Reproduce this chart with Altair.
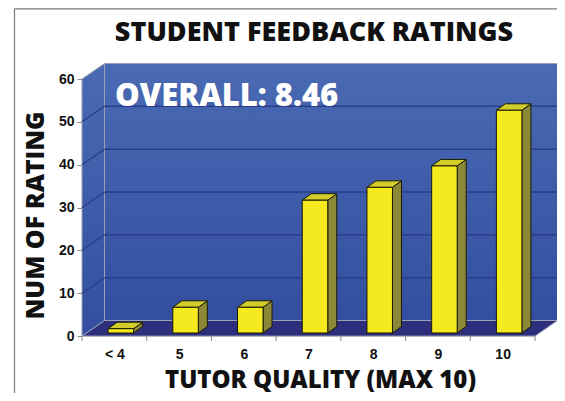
import altair as alt
import pandas as pd

# ---- data ----
categories = ["< 4", "5", "6", "7", "8", "9", "10"]
counts = [1, 6, 6, 31, 34, 39, 52]
y_ticks = [0, 10, 20, 30, 40, 50, 60]
title_text = "STUDENT FEEDBACK RATINGS"
overall_text = "OVERALL: 8.46"
x_title = "TUTOR QUALITY (MAX 10)"
y_title = "NUM OF RATING"

# ---- layout (pixels) ----
W, H = 453, 257
PAD = {"left": 74, "top": 71, "right": 22, "bottom": 57}
NX = len(categories)
YMAX = 60
ux = NX / W
uy = YMAX / H

DX, DY = 22.5 * ux, 15.5 * uy   # wall depth
BX, BY = 9 * ux, 6.5 * uy       # bar depth
BOFF = 6.5 * ux                 # bar front shift
BASE = 3 * uy                   # bar base above front edge
BW = 25.5 * ux                  # bar width

font_heavy = "Open Sans"
heavy_weight = 800

xs = alt.Scale(domain=[0, NX], range=[0, W], nice=False, zero=False)
ys = alt.Scale(domain=[0, YMAX], range=[H, 0], nice=False, zero=False)

label_expr = "[" + ",".join(f"'{c}'" for c in categories) + "][floor(datum.value)]"
AXX = alt.Axis(
    values=[i + 0.5 for i in range(NX)], labelExpr=label_expr, ticks=False, tickSize=0,
    domain=False, grid=False, labelFont="Liberation Sans", labelFontWeight="bold",
    labelFontSize=14, labelColor="#111", labelPadding=11,
    title=x_title, titleFont=font_heavy, titleFontWeight=heavy_weight, titleFontSize=24,
    titleColor="#111", titleX=238, titleY=44, titleAnchor="middle", titleBaseline="middle",
)
AXY = alt.Axis(
    values=y_ticks, domain=True, domainColor="#8a8a8a", tickColor="#8a8a8a",
    tickSize=5, grid=False, labelFont="Liberation Sans", labelFontWeight="bold",
    labelFontSize=14, labelColor="#111", labelPadding=3,
    title=y_title, titleFont=font_heavy, titleFontWeight=heavy_weight, titleFontSize=25,
    titleColor="#111", titleAngle=-90, titleX=-47, titleY=136,
    titleAlign="center", titleBaseline="middle",
)


def X(field):
    return alt.X(field, scale=xs, axis=AXX)


def Y(field):
    return alt.Y(field, scale=ys, axis=AXY)


# ---- walls ----
floor = pd.DataFrame({"x": [0, DX, NX, NX + DX], "y": [0, 0, 0, DY], "y2": [0, DY, DY, DY]})
left_wall = pd.DataFrame({"x": [0, DX], "y": [0, DY], "y2": [YMAX, YMAX + DY]})
back_wall = pd.DataFrame({"x": [DX], "x2": [NX + DX], "y": [DY], "y2": [YMAX + DY]})

wall_grad = alt.Gradient(
    gradient="linear",
    stops=[alt.GradientStop(color="#4a6ab3", offset=0),
           alt.GradientStop(color="#334ea0", offset=1)],
    x1=0, x2=0, y1=0, y2=1,
)

floor_layer = alt.Chart(floor).mark_area(color="#2d2f7c", stroke="#8f93b0", strokeWidth=1).encode(
    x=X("x:Q"), y=Y("y:Q"), y2="y2:Q",
)
left_layer = alt.Chart(left_wall).mark_area(fill=wall_grad, stroke="#9aa0b8", strokeWidth=1).encode(
    x=X("x:Q"), y=Y("y:Q"), y2="y2:Q",
)
back_layer = alt.Chart(back_wall).mark_rect(fill=wall_grad, stroke="#9aa0b8", strokeWidth=1).encode(
    x=X("x:Q"), x2="x2:Q", y=Y("y:Q"), y2="y2:Q",
)

grid_vals = [v for v in y_ticks if 0 < v < YMAX]
grid_back = pd.DataFrame({"x": [DX] * len(grid_vals), "x2": [NX + DX] * len(grid_vals),
                          "y": [v + DY for v in grid_vals]})
grid_side = pd.DataFrame({"x": [0] * len(grid_vals), "x2": [DX] * len(grid_vals),
                          "y": grid_vals, "y2": [v + DY for v in grid_vals]})
grid_back_layer = alt.Chart(grid_back).mark_rule(color="#2a3c88", strokeWidth=1.5).encode(
    x=X("x:Q"), x2="x2:Q", y=Y("y:Q"),
)
grid_side_layer = alt.Chart(grid_side).mark_rule(color="#2a3c88", strokeWidth=1.2).encode(
    x=X("x:Q"), x2="x2:Q", y=Y("y:Q"), y2="y2:Q",
)

# ---- bars ----
front_rows, top_rows, side_rows = [], [], []
for i, (c, v) in enumerate(zip(categories, counts)):
    xl = i + 0.5 + BOFF - BW / 2
    xr = xl + BW
    b0, b1 = BASE, BASE + v
    front_rows.append({"cat": c, "x": xl, "x2": xr, "y": b0, "y2": b1, "count": v})
    for x, y, y2 in [(xl, b1, b1), (xl + BX, b1, b1 + BY), (xr, b1, b1 + BY), (xr + BX, b1 + BY, b1 + BY)]:
        top_rows.append({"cat": c, "x": x, "y": y, "y2": y2})
    for x, y, y2 in [(xr, b0, b1), (xr + BX, b0 + BY, b1 + BY)]:
        side_rows.append({"cat": c, "x": x, "y": y, "y2": y2})

front_layer = alt.Chart(pd.DataFrame(front_rows)).mark_rect(
    color="#f4ea1f", stroke="#1a1a00", strokeWidth=1).encode(
    x=X("x:Q"), x2="x2:Q", y=Y("y:Q"), y2="y2:Q",
)
top_layer = alt.Chart(pd.DataFrame(top_rows)).mark_area(
    color="#d3cd2c", stroke="#1a1a00", strokeWidth=1).encode(
    x=X("x:Q"), y=Y("y:Q"), y2="y2:Q", detail="cat:N",
)
side_layer = alt.Chart(pd.DataFrame(side_rows)).mark_area(
    color="#8b8838", stroke="#1a1a00", strokeWidth=1).encode(
    x=X("x:Q"), y=Y("y:Q"), y2="y2:Q", detail="cat:N",
)

tick_df = pd.DataFrame({"pos": list(range(NX + 1)), "zero": [0] * (NX + 1)})
x_ticks_layer = alt.Chart(tick_df).mark_rule(color="#8a8a8a", strokeWidth=1, y2Offset=5).encode(
    x=X("pos:Q"), y=Y("zero:Q"), y2="zero:Q",
)

overall = alt.Chart(pd.DataFrame({"t": [overall_text]})).mark_text(
    align="left", baseline="middle", font=font_heavy, fontWeight=heavy_weight, fontSize=31,
    color="white",
).encode(x=alt.value(33), y=alt.value(18), text="t:N")

title_layer = alt.Chart(pd.DataFrame({"t": [title_text]})).mark_text(
    align="center", baseline="middle", font=font_heavy, fontWeight=heavy_weight, fontSize=27,
    color="#111",
).encode(x=alt.value(232), y=alt.value(-46), text="t:N")

# frame around the picture: left and top edges only (the rest runs off the image)
frame_df = pd.DataFrame({"t": [0]})
frame_left = alt.Chart(frame_df).mark_rule(color="#7a7a7a", strokeWidth=1.2).encode(
    x=alt.value(-67.5), y=alt.value(-70.2), y2=alt.value(340),
)
frame_top = alt.Chart(frame_df).mark_rule(color="#7a7a7a", strokeWidth=1.2).encode(
    x=alt.value(-67.5), x2=alt.value(475), y=alt.value(-70.2),
)

chart = alt.layer(
    frame_left, frame_top, floor_layer, left_layer, back_layer, grid_back_layer, grid_side_layer,
    x_ticks_layer, side_layer, top_layer, front_layer, overall, title_layer,
).properties(
    width=W, height=H,
    autosize=alt.AutoSizeParams(type="none"),
    padding=PAD,
).configure_view(stroke=None).configure(background="white")

chart.save("out.html", embed_options={"renderer": "svg", "actions": False})
